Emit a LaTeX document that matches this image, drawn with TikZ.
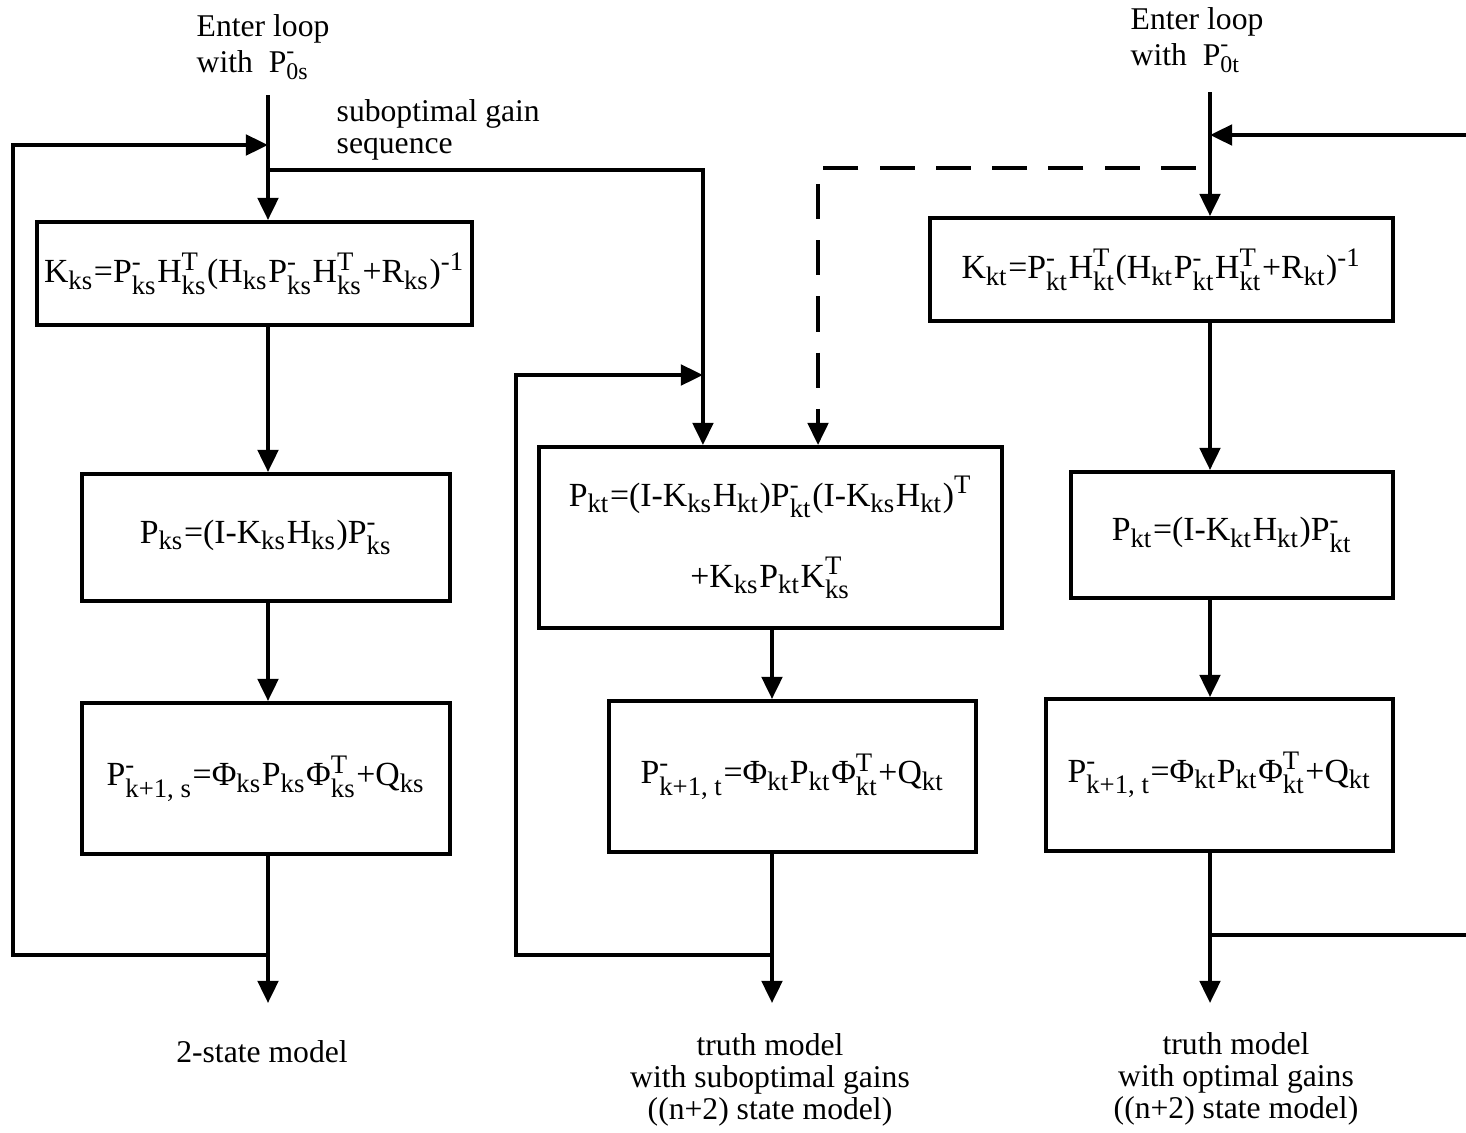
\documentclass[tikz,border=0pt]{standalone}
\usepackage{amsmath}
\usepackage{fontspec}
\setmainfont{Liberation Serif}
\usetikzlibrary{arrows.meta,positioning}
\DeclareMathSizes{9.6}{9.6}{7.6}{5.5}
\DeclareMathSizes{9}{9}{6.8}{5}
\tikzset{>={Triangle[length=6.3pt,width=5.8pt]}}
\newcommand{\subx}[1]{$_{\text{#1}}$}
\newcommand{\supx}[1]{$^{\text{#1}}$}
\newcommand{\subsup}[2]{$_{\text{#1}}^{\text{#2}}$}

\begin{document}
\begin{tikzpicture}[x=0.01cm,y=-0.01cm,
    eqbox/.style={draw,line width=1.1pt,inner sep=0pt,font=\fontsize{9.6}{11}\selectfont},
    flow/.style={line width=1.1pt,->},
    lbl/.style={font=\fontsize{9}{9.1}\selectfont,inner sep=0pt}]
    \useasboundingbox (0,0) rectangle (1466,1133);
    % 2-state model column
    \node[eqbox,minimum width=4.35cm,minimum height=1.03cm] (kks) at (254.5,273.5)
        {K\subx{ks}=P\subsup{ks}{-}H\subsup{ks}{T}(H\subx{ks}P\subsup{ks}{-}H\subsup{ks}{T}+R\subx{ks})\supx{-1}};
    \node[eqbox,minimum width=3.68cm,minimum height=1.27cm] (pks) at (266,537.5)
        {P\subx{ks}=(I-K\subx{ks}H\subx{ks})P\subsup{ks}{-}};
    \node[eqbox,minimum width=3.68cm,minimum height=1.51cm] (pms) at (266,778.5)
        {P\subsup{k+1, s}{-}=Φ\subx{ks}P\subx{ks}Φ\subsup{ks}{T}+Q\subx{ks}};
    % truth model, suboptimal gains
    \node[eqbox,minimum width=4.63cm,minimum height=1.81cm,align=center] (pkt) at (770.5,537.5)
        {P\subx{kt}=(I-K\subx{ks}H\subx{kt})P\subsup{kt}{-}(I-K\subx{ks}H\subx{kt})\supx{T}\\[10pt]
         +K\subx{ks}P\subx{kt}K\subsup{ks}{T}\hspace{1.1cm}};
    \node[eqbox,minimum width=3.67cm,minimum height=1.51cm] (pmt) at (792.5,776.5)
        {P\subsup{k+1, t}{-}=Φ\subx{kt}P\subx{kt}Φ\subsup{kt}{T}+Q\subx{kt}};
    % truth model, optimal gains
    \node[eqbox,minimum width=4.63cm,minimum height=1.03cm] (kkt) at (1161.5,269.5)
        {K\subx{kt}=P\subsup{kt}{-}H\subsup{kt}{T}(H\subx{kt}P\subsup{kt}{-}H\subsup{kt}{T}+R\subx{kt})\supx{-1}};
    \node[eqbox,minimum width=3.22cm,minimum height=1.26cm] (pko) at (1232,535)
        {P\subx{kt}=(I-K\subx{kt}H\subx{kt})P\subsup{kt}{-}};
    \node[eqbox,minimum width=3.47cm,minimum height=1.52cm] (pmo) at (1219.5,775)
        {P\subsup{k+1, t}{-}=Φ\subx{kt}P\subx{kt}Φ\subsup{kt}{T}+Q\subx{kt}};

    \node[lbl,anchor=north west,align=left] (ents) at (196,14) {Enter loop\\[1pt]with\ \ P\subsup{0s}{-}};
    \node[lbl,anchor=north west,align=left] (gain) at (336,99) {suboptimal gain\\sequence};
    \node[lbl,anchor=north west,align=left] (entt) at (1130,7) {Enter loop\\[1pt]with\ \ P\subsup{0t}{-}};
    \node[lbl] (outs) at (262,1052) {2-state model};
    \node[lbl,align=center] (outm) at (770,1080) {truth model\\with suboptimal gains\\((n+2) state model)};
    \node[lbl,align=center] (outo) at (1236,1079) {truth model\\with optimal gains\\((n+2) state model)};

    \coordinate (ins) at (268,95);
    \coordinate (int) at (1210,92);
    \coordinate (inm) at (772,0);
    \coordinate (fbs) at (268,955);
    \coordinate (fbm) at (772,955);
    \coordinate (gs) at (268,170);
    \coordinate (rin) at (1466,135);
    \coordinate (rout) at (1466,935);

    \draw[flow] (ins) -- (kks.north -| ins);
    \draw[flow] (kks.south -| ins) -- (pks.north -| ins);
    \draw[flow] (pks.south -| ins) -- (pms.north -| ins);
    \draw[flow] (pms.south -| ins) -- (268,1003);
    \draw[flow] (fbs) -| (13,145) -- (ins |- 0,145);
    \draw[flow] (gs) -| ([xshift=-0.675cm]pkt.north);

    \draw[flow] (pkt.south -| inm) -- (pmt.north -| inm);
    \draw[flow] (pmt.south -| inm) -- (772,1003);
    \draw[flow] (fbm) -| (516,375) -- (703,375);
    \draw[flow,dashed,dash pattern=on 10pt off 6pt] (1196,168) -| ([xshift=0.475cm]pkt.north);

    \draw[flow] (int) -- (kkt.north -| int);
    \draw[flow] (rin) -- (int |- rin);
    \draw[flow] (kkt.south -| int) -- (pko.north -| int);
    \draw[flow] (pko.south -| int) -- (pmo.north -| int);
    \draw[flow] (pmo.south -| int) -- (1210,1003);
    \draw[line width=1.1pt] (int |- rout) -- (rout);
\end{tikzpicture}
\end{document}
